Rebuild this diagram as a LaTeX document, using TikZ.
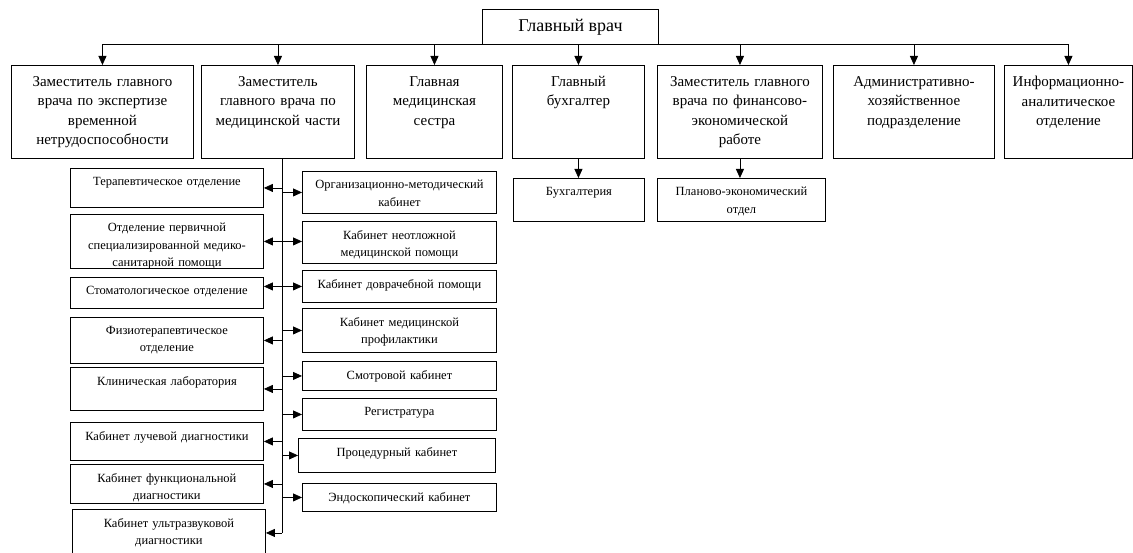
\documentclass[tikz,border=0pt]{standalone}
\usepackage{fontspec}
\setmainfont{Liberation Serif}
\usetikzlibrary{arrows.meta}

\begin{document}
\begin{tikzpicture}[x=1pt,y=-1pt]
            \tikzstyle{unit}=[draw,line width=0.9pt,inner sep=0pt,anchor=north west]
            \tikzstyle{big}=[align=center,text width=190pt,inner sep=0pt,anchor=north,yshift=-11pt,font=\fontsize{15}{19.5}\selectfont]
            \tikzstyle{small}=[align=center,text width=200pt,inner sep=0pt,anchor=north,yshift=-9pt,font=\fontsize{12.5}{17.5}\selectfont]
            \tikzstyle{link}=[line width=0.8pt,-{Triangle[length=9pt,width=8pt]}]
            \tikzstyle{link both}=[line width=0.8pt,{Triangle[length=9pt,width=8pt]}-{Triangle[length=9pt,width=8pt]}]

            \useasboundingbox (0,0) rectangle (1133,553);

            \node[unit,minimum width=176pt,minimum height=35pt,font=\fontsize{18}{21}\selectfont] (GV) at (482,9) {Главный врач};

            \node[unit,minimum width=182pt,minimum height=93pt,label={[big]north:{Заместитель главного\\врача по экспертизе\\временной\\нетрудоспособности}}] (ZE) at (11,65) {};
            \node[unit,minimum width=153pt,minimum height=93pt,label={[big]north:{Заместитель\\главного врача по\\медицинской части}}] (ZM) at (201,65) {};
            \node[unit,minimum width=136pt,minimum height=93pt,label={[big]north:{Главная\\медицинская\\сестра}}] (MS) at (366,65) {};
            \node[unit,minimum width=132pt,minimum height=93pt,label={[big]north:{Главный\\бухгалтер}}] (GB) at (512,65) {};
            \node[unit,minimum width=165pt,minimum height=93pt,label={[big]north:{Заместитель главного\\врача по финансово-\\экономической\\работе}}] (ZF) at (657,65) {};
            \node[unit,minimum width=161pt,minimum height=93pt,label={[big]north:{Административно-\\хозяйственное\\подразделение}}] (AH) at (833,65) {};
            \node[unit,minimum width=128pt,minimum height=93pt,label={[big]north:{Информационно-\\аналитическое\\отделение}}] (IA) at (1004,65) {};

            \node[unit,minimum width=131pt,minimum height=43pt,label={[small]north:{Бухгалтерия}}] (BU) at (513,178) {};
            \node[unit,minimum width=168pt,minimum height=43pt,label={[small]north:{Планово-экономический\\отдел}}] (PE) at (657,178) {};

            \node[unit,minimum width=193pt,minimum height=39pt,label={[small]north:{Терапевтическое отделение}}] (TO) at (70,168) {};
            \node[unit,minimum width=193pt,minimum height=54pt,label={[small]north:{Отделение первичной\\специализированной медико-\\санитарной помощи}}] (OP) at (70,214) {};
            \node[unit,minimum width=193pt,minimum height=31pt,label={[small]north:{Стоматологическое отделение}}] (SO) at (70,277) {};
            \node[unit,minimum width=193pt,minimum height=46pt,label={[small]north:{Физиотерапевтическое\\отделение}}] (FO) at (70,317) {};
            \node[unit,minimum width=193pt,minimum height=43pt,label={[small]north:{Клиническая лаборатория}}] (KL) at (70,367) {};
            \node[unit,minimum width=193pt,minimum height=38pt,label={[small]north:{Кабинет лучевой диагностики}}] (LD) at (70,422) {};
            \node[unit,minimum width=193pt,minimum height=39pt,label={[small]north:{Кабинет функциональной\\диагностики}}] (FD) at (70,464) {};
            \node[unit,minimum width=193pt,minimum height=47pt,label={[small]north:{Кабинет ультразвуковой\\диагностики}}] (UD) at (72,509) {};

            \node[unit,minimum width=194pt,minimum height=42pt,label={[small]north:{Организационно-методический\\кабинет}}] (OM) at (302,171) {};
            \node[unit,minimum width=194pt,minimum height=42pt,label={[small]north:{Кабинет неотложной\\медицинской помощи}}] (NP) at (302,221) {};
            \node[unit,minimum width=194pt,minimum height=32pt,label={[small]north:{Кабинет доврачебной помощи}}] (DP) at (302,270) {};
            \node[unit,minimum width=194pt,minimum height=44pt,label={[small]north:{Кабинет медицинской\\профилактики}}] (MP) at (302,308) {};
            \node[unit,minimum width=194pt,minimum height=29pt,label={[small]north:{Смотровой кабинет}}] (SK) at (302,361) {};
            \node[unit,minimum width=194pt,minimum height=32pt,label={[small]north:{Регистратура}}] (RG) at (302,398) {};
            \node[unit,minimum width=197pt,minimum height=34pt,label={[small]north:{Процедурный кабинет}}] (PK) at (298,438) {};
            \node[unit,minimum width=194pt,minimum height=28pt,label={[small]north:{Эндоскопический кабинет}}] (EK) at (302,483) {};

            \draw[link] (GV.south) -| (ZE.north);
            \draw[link] (GV.south) -| (ZM.north);
            \draw[link] (GV.south) -| (MS.north);
            \draw[link] (GV.south) -| (GB.north);
            \draw[link] (GV.south) -| (ZF.north);
            \draw[link] (GV.south) -| (AH.north);
            \draw[link] (GV.south) -| (IA.north);

            \draw[link] (GB.south) -- (GB.south |- BU.north);
            \draw[link] (ZF.south) -- (ZF.south |- PE.north);

            \coordinate (t) at ([xshift=4pt]ZM.south);
            \draw[line width=0.8pt] (t) -- (t |- UD.east);

            \draw[link] (t |- TO.east) -- (TO.east);
            \draw[link both] (OP.east) -- (OP.east -| NP.west);
            \draw[link both] (DP.west -| SO.east) -- (DP.west);
            \draw[link] (t |- FO.east) -- (FO.east);
            \draw[link] (t |- KL.east) -- (KL.east);
            \draw[link] (t |- LD.east) -- (LD.east);
            \draw[link] (t |- FD.east) -- (FD.east);
            \draw[link] (t |- UD.east) -- (UD.east);

            \draw[link] (t |- OM.west) -- (OM.west);
            \draw[link] (t |- MP.west) -- (MP.west);
            \draw[link] (t |- SK.west) -- (SK.west);
            \draw[link] (t |- RG.west) -- (RG.west);
            \draw[link] (t |- PK.west) -- (PK.west);
            \draw[link] (t |- EK.west) -- (EK.west);
        \end{tikzpicture}
\end{document}
